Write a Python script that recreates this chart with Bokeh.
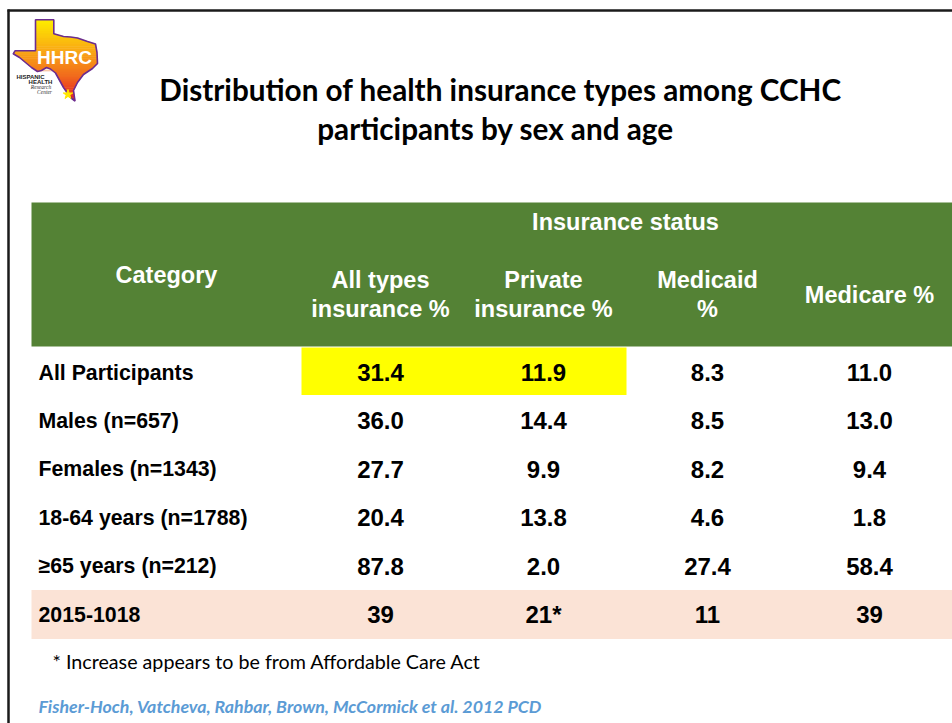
from bokeh.plotting import figure
from bokeh.models import Range1d, ColumnDataSource
from bokeh.core.properties import value
from bokeh.embed import file_html
from bokeh.resources import INLINE

# ---------------- data ----------------
title_lines = ["Distribution of health insurance types among CCHC",
               "participants by sex and age"]
group_header = "Insurance status"
category_header = "Category"
column_headers = ["All types\ninsurance %", "Private\ninsurance %", "Medicaid\n%", "Medicare %"]
categories = ["All Participants", "Males (n=657)", "Females (n=1343)",
              "18-64 years  (n=1788)", "\u226565 years  (n=212)", "2015-1018"]
all_types = ["31.4", "36.0", "27.7", "20.4", "87.8", "39"]
private = ["11.9", "14.4", "9.9", "13.8", "2.0", "21*"]
medicaid = ["8.3", "8.5", "8.2", "4.6", "27.4", "11"]
medicare = ["11.0", "13.0", "9.4", "1.8", "58.4", "39"]
footnote = "* Increase appears to be from Affordable Care Act"
citation = "Fisher-Hoch, Vatcheva, Rahbar, Brown, McCormick et al. 2012 PCD"

# ---------------- layout (page pixel coords) ----------------
W, H = 952, 723
p = figure(width=W, height=H, x_range=Range1d(0, W), y_range=Range1d(H, 0),
           output_backend="svg", toolbar_location=None, min_border=0,
           outline_line_color=None, background_fill_color="white")
p.xaxis.visible = False
p.yaxis.visible = False
p.xgrid.visible = False
p.ygrid.visible = False

# slide border
p.segment(x0=[7], y0=[10], x1=[952], y1=[10], line_color="#1a1a1a", line_width=2.5)
p.segment(x0=[8], y0=[9], x1=[8], y1=[723], line_color="#1a1a1a", line_width=2.5)

# ---------------- logo ----------------
texas = [(35, 19.3), (53.3, 19.3), (53.3, 33.3), (63, 36), (70, 36.5), (77, 37.5),
         (87, 41), (95, 43.5), (96.5, 52), (97, 63), (92, 68), (83, 74), (77, 82),
         (73, 90), (74.5, 100.5), (70, 97), (63, 87), (55, 72.5), (50, 68.5),
         (46, 67), (41, 70), (37, 71), (31, 67), (25, 62), (19, 57), (12.7, 53.3),
         (14.5, 50.3), (35, 50.3)]


def clip(poly, yc, keep_greater):
    out = []
    n = len(poly)
    for i in range(n):
        a = poly[i]
        b = poly[(i + 1) % n]
        ina = a[1] >= yc if keep_greater else a[1] <= yc
        inb = b[1] >= yc if keep_greater else b[1] <= yc
        if ina:
            out.append(a)
        if ina != inb:
            t = (yc - a[1]) / (b[1] - a[1])
            out.append((a[0] + t * (b[0] - a[0]), yc))
    return out


stops = [(19, (255, 240, 0)), (50, (250, 170, 20)), (75, (243, 110, 30)), (101, (226, 28, 36))]


def grad(y):
    for (y0, c0), (y1, c1) in zip(stops[:-1], stops[1:]):
        if y <= y1:
            t = max(0.0, (y - y0) / (y1 - y0))
            return "#%02x%02x%02x" % tuple(int(c0[k] + t * (c1[k] - c0[k])) for k in range(3))
    return "#%02x%02x%02x" % stops[-1][1]


nb = 40
ys_, xs_, cols = [], [], []
for i in range(nb):
    y0 = 19 + i * (82 / nb)
    y1 = y0 + 82 / nb + 0.4
    poly = clip(clip(texas, y0, True), y1, False)
    if len(poly) >= 3:
        xs_.append([q[0] for q in poly])
        ys_.append([q[1] for q in poly])
        cols.append(grad((y0 + y1) / 2))
p.patches(xs=xs_, ys=ys_, fill_color=cols, line_color=cols, line_width=0.3)
p.patch(x=[q[0] for q in texas], y=[q[1] for q in texas], fill_color=None,
        line_color="#6a2c91", line_width=1.6)
p.text(x=[64], y=[57], text=["HHRC"], text_font=value("Liberation Sans"),
       text_font_style="bold", text_font_size="19px", text_color="white",
       text_align="center", text_baseline="middle")
p.scatter(x=[67.5], y=[94], marker="star", size=10, fill_color="#ffe600",
          line_color="#ffe600")
p.text(x=[30, 40], y=[76.5, 81.5], text=["HISPANIC", "HEALTH"],
       text_font=value("Liberation Sans"), text_font_style="bold",
       text_font_size="6px", text_color="#222222", text_align="center",
       text_baseline="middle")
p.text(x=[40.5, 44], y=[86.5, 91], text=["Research", "Center"],
       text_font=value("Liberation Serif"), text_font_style="italic",
       text_font_size="5.5px", text_color="#333333", text_align="center",
       text_baseline="middle")

# ---------------- title ----------------
p.text(x=[500, 495], y=[89, 128], text=title_lines, text_font=value("Lato"),
       text_font_style="bold", text_font_size="29.7px", text_color="black",
       text_align="center", text_baseline="middle")

# ---------------- table ----------------
tx0, tx1 = 31, 952
col_x = [380, 543, 707, 869]
row_y0 = 372
row_h = 48.4
row_y = [row_y0 + i * row_h for i in range(len(categories))]

# header background
p.quad(left=[tx0], right=[tx1], top=[202], bottom=[346], fill_color="#548235",
       line_color=None)
# highlight for first row (all types + private)
p.quad(left=[301], right=[626], top=[row_y[0] - 25], bottom=[row_y[0] + 22.5],
       fill_color="#ffff00", line_color=None)
# last row band
p.quad(left=[tx0], right=[tx1], top=[row_y[-1] - 24.5], bottom=[row_y[-1] + 24.5],
       fill_color="#fbe3d6", line_color=None)

hdr_font = value("Liberation Sans")
p.text(x=[625], y=[221], text=[group_header], text_font=hdr_font, text_font_style="bold",
       text_font_size="23.5px", text_color="white", text_align="center", text_baseline="middle")
p.text(x=[166], y=[274], text=[category_header], text_font=hdr_font, text_font_style="bold",
       text_font_size="23.5px", text_color="white", text_align="center", text_baseline="middle")
p.text(x=col_x, y=[294] * 4, text=column_headers, text_font=hdr_font, text_font_style="bold",
       text_font_size="23.5px", text_color="white", text_align="center", text_baseline="middle",
       text_line_height=1.15)

src = ColumnDataSource(dict(y=row_y, cat=categories, a=all_types, b=private,
                            c=medicaid, d=medicare))
p.text(x=38, y="y", text="cat", source=src, text_font=hdr_font, text_font_style="bold",
       text_font_size="21.3px", text_color="black", text_align="left", text_baseline="middle")
for cx, key in zip(col_x, ["a", "b", "c", "d"]):
    p.text(x=cx, y="y", text=key, source=src, text_font=hdr_font, text_font_style="bold",
           text_font_size="24px", text_color="black", text_align="center",
           text_baseline="middle")

# ---------------- notes ----------------
p.text(x=[52], y=[661], text=[footnote], text_font=value("Lato"), text_font_size="19.7px",
       text_color="black", text_align="left", text_baseline="middle")
p.text(x=[38], y=[705], text=[citation], text_font=value("Lato"), text_font_style="bold italic",
       text_font_size="17.8px", text_color="#5b9bd5", text_align="left", text_baseline="middle")

open("out.html", "w").write(file_html(p, INLINE))
